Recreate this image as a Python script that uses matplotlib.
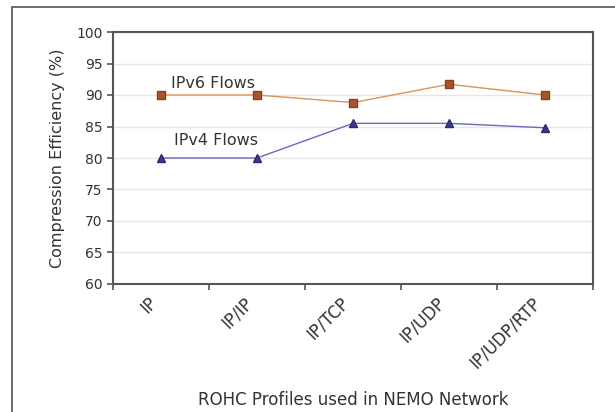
import numpy as np
import matplotlib
matplotlib.use('Agg')
import matplotlib.pyplot as plt
from matplotlib.patches import Rectangle
from matplotlib.transforms import ScaledTranslation

profiles = ['IP', 'IP/IP', 'IP/TCP', 'IP/UDP', 'IP/UDP/RTP']
ipv6_flows = [90.0, 90.0, 88.8, 91.7, 90.0]
ipv4_flows = [80.0, 80.0, 85.5, 85.5, 84.8]
y_ticks = [60, 65, 70, 75, 80, 85, 90, 95, 100]

plt.rcParams['font.family'] = ['DejaVu Sans']
plt.rcParams['font.size'] = 10

fig = plt.figure(figsize=(6.15, 4.12), dpi=100)
ax = fig.add_axes([113/615, 1-284/412, (593-113)/615, (284-32)/412])

# outer chart frame
fig.patches.append(Rectangle((12/615, -0.05), 1.1, 1-7/412+0.05, transform=fig.transFigure,
                             fill=False, edgecolor='#555555', linewidth=1.2))

x = np.arange(len(profiles)) + 0.5
ax.plot(x, ipv6_flows, color='#d9945a', linewidth=1.0, marker='s', markersize=6,
        markerfacecolor='#a8552e', markeredgecolor='#8a4020', zorder=3)
ax.plot(x, ipv4_flows, color='#6a6ab8', linewidth=1.0, marker='^', markersize=6,
        markerfacecolor='#3a3a8c', markeredgecolor='#2a2a70', zorder=3)

ax.text(0.6, 91.9, 'IPv6 Flows', fontsize=11.5, color='#333333', va='center')
ax.text(0.64, 82.75, 'IPv4 Flows', fontsize=11.5, color='#333333', va='center')

ax.set_xlim(0, len(profiles))
ax.set_ylim(60, 100)
ax.set_yticks(y_ticks)
ax.set_yticklabels([str(v) for v in y_ticks], color='#333333', fontsize=10)

ax.set_xticks(x)
ax.set_xticklabels(profiles, rotation=45, ha='right', rotation_mode='anchor',
                   color='#333333', fontsize=12)
ax.tick_params(axis='x', which='major', length=0, pad=7)
shift = ScaledTranslation(-13/100, 0, fig.dpi_scale_trans)
for lbl in ax.get_xticklabels():
    lbl.set_transform(lbl.get_transform() + shift)
ax.set_xticks(np.arange(len(profiles) + 1), minor=True)
ax.tick_params(axis='x', which='minor', length=4, width=1.2, color='#555555', direction='out')
ax.tick_params(axis='y', length=4, width=1.2, color='#555555', direction='out')

ax.yaxis.grid(True, color='#e6e6e6', linewidth=1.0)
ax.set_axisbelow(True)
for s in ax.spines.values():
    s.set_color('#555555')
    s.set_linewidth(1.5)

ax.set_ylabel('Compression Efficiency (%)', fontsize=11.5, color='#333333', labelpad=8)
ax.set_xlabel('ROHC Profiles used in NEMO Network', fontsize=12, color='#333333', labelpad=14)

fig.savefig('out.png', dpi=100)
